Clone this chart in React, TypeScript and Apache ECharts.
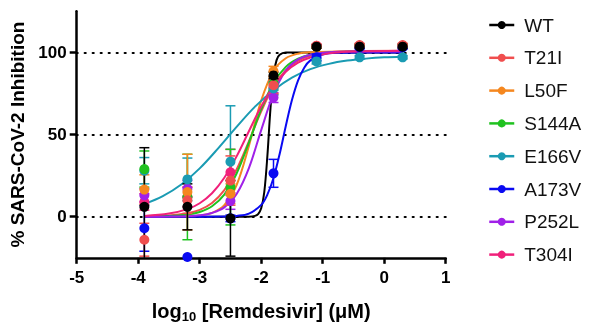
import React, { useEffect, useRef } from 'react';
import * as echarts from 'echarts';

// log10 concentration (µM) of each measured point
const logConc = [-3.9, -3.2, -2.5, -1.8, -1.1, -0.4, 0.3];

const variants = ['WT', 'T21I', 'L50F', 'S144A', 'E166V', 'A173V', 'P252L', 'T304I'];
const colors = ['#000000', '#F04E4E', '#F5871F', '#1FC21F', '#1A9BB3', '#0A0AF2', '#A020E8', '#F0207A'];

// mean % inhibition per variant
const wtMean = [6, 6, -1, 86, 103.5, 103.5, 103.5];
const t21iMean = [-14, 10, 22, 80, 104, 104.5, 104.5];
const l50fMean = [16.5, 15, 14, 88.5, 103.5, 104, 104];
const s144aMean = [29, 12, 18, 81, 103.5, 104, 104];
const e166vMean = [28, 22.7, 33.5, 78, 94.5, 97, 97];
const a173vMean = [-7, -24.5, -1, 26.4, 97, 103, 103];
const p252lMean = [13, 17, 9.5, 72.5, 103.5, 104, 104];
const t304iMean = [9, 12, 27, 78.5, 104, 104, 104];

// standard deviation per variant
const wtSd = [36, 14, 23, 2, 1, 1, 1];
const t21iSd = [10, 8, 15, 5, 1, 1, 1];
const l50fSd = [9, 23, 6, 3, 1, 1, 1];
const s144aSd = [11, 26, 23, 4, 1, 1, 1];
const e166vSd = [8, 13, 34, 4, 1.5, 1, 1];
const a173vSd = [14, 0, 2, 8.5, 2, 1, 1];
const p252lSd = [4, 5, 5, 3, 1, 1, 1];
const t304iSd = [5, 6, 14, 4, 1, 1, 1];

// fitted dose-response curves as [log10 conc, % inhibition]
const wtCurve = [[-3.9, 0], [-3.0, 0], [-2.4, 0], [-2.2, 0.05], [-2.1, 0.5], [-2.05, 1.6], [-2.0, 5.1], [-1.95, 15], [-1.9, 36.7], [-1.85, 65.5], [-1.8, 86.1], [-1.75, 95.3], [-1.7, 98.5], [-1.6, 99.9], [-1.4, 100], [-0.5, 100], [0.3, 100]];
const t21iCurve = [[-3.9, 0.2], [-3.5, 0.7], [-3.2, 2.1], [-3.0, 4.2], [-2.8, 8.4], [-2.6, 16.2], [-2.4, 28.8], [-2.2, 45.9], [-2.0, 64.1], [-1.8, 79.2], [-1.6, 89.2], [-1.4, 95], [-1.2, 98], [-0.9, 100], [-0.5, 100.8], [0.3, 101]];
const l50fCurve = [[-3.9, 0], [-3.5, 0.04], [-3.2, 0.24], [-3.0, 0.75], [-2.8, 2.3], [-2.6, 7.0], [-2.4, 19.3], [-2.2, 43.1], [-2.0, 70.7], [-1.8, 88.7], [-1.6, 96.4], [-1.4, 99.2], [-1.2, 100.1], [-0.9, 100.4], [0.3, 100.5]];
const s144aCurve = [[-3.9, 0.07], [-3.5, 0.37], [-3.2, 1.3], [-3.0, 2.9], [-2.8, 6.4], [-2.6, 13.5], [-2.4, 26.3], [-2.2, 45.1], [-2.0, 65.4], [-1.8, 81.4], [-1.6, 91.2], [-1.4, 96.2], [-1.2, 98.6], [-0.9, 100], [-0.5, 100.4], [0.3, 100.5]];
const e166vCurve = [[-3.9, 7.7], [-3.6, 12.5], [-3.3, 19.6], [-3.0, 29.4], [-2.7, 41.6], [-2.4, 54.7], [-2.1, 67], [-1.8, 77], [-1.5, 84.7], [-1.2, 89.8], [-0.9, 93], [-0.6, 95], [-0.3, 96.2], [0, 97], [0.3, 97.4]];
const a173vCurve = [[-3.9, 0], [-3.0, 0], [-2.6, 0.1], [-2.4, 0.5], [-2.2, 1.9], [-2.0, 7.2], [-1.9, 13.4], [-1.8, 23.6], [-1.7, 38.2], [-1.6, 55.2], [-1.5, 71], [-1.4, 83], [-1.3, 90.7], [-1.2, 95.1], [-1.0, 98.7], [-0.7, 99.8], [-0.4, 100], [0.3, 100]];
const p252lCurve = [[-3.9, 0], [-3.5, 0.08], [-3.2, 0.33], [-3.0, 0.87], [-2.8, 2.3], [-2.6, 5.7], [-2.4, 13.8], [-2.2, 29.6], [-2.0, 52.7], [-1.8, 74.7], [-1.6, 88.9], [-1.4, 95.7], [-1.2, 98.6], [-0.9, 100.1], [-0.5, 100.5], [0.3, 100.5]];
const t304iCurve = [[-3.9, 0.5], [-3.5, 1.9], [-3.2, 4.6], [-3.0, 8.2], [-2.8, 14.3], [-2.6, 23.7], [-2.4, 36.7], [-2.2, 52], [-2.0, 67.1], [-1.8, 79.5], [-1.6, 88.2], [-1.4, 93.7], [-1.2, 96.9], [-0.9, 99.4], [-0.5, 100.5], [0.3, 101]];

const yTicks = [0, 50, 100];
const refLines = [0, 50, 100];

const means = [wtMean, t21iMean, l50fMean, s144aMean, e166vMean, a173vMean, p252lMean, t304iMean];
const sds = [wtSd, t21iSd, l50fSd, s144aSd, e166vSd, a173vSd, p252lSd, t304iSd];
const curves = [wtCurve, t21iCurve, l50fCurve, s144aCurve, e166vCurve, a173vCurve, p252lCurve, t304iCurve];

const FONT = '"Liberation Sans", Arial, Helvetica, sans-serif';
const Y_MIN = -25;
const Y_MAX = 125;

export default function App() {
  const ref = useRef<HTMLDivElement>(null);
  useEffect(() => {
    const chart = echarts.init(ref.current!, null, { renderer: 'svg' });
    const series: any[] = [];
    // curves
    variants.forEach((v, i) => {
      series.push({
        type: 'line',
        name: v,
        data: curves[i],
        symbol: 'circle',
        showSymbol: false,
        smooth: 0.35,
        lineStyle: { color: colors[i], width: 2 },
        itemStyle: { color: colors[i] },
        z: 3,
        silent: true,
        markLine: i === 0 ? {
          silent: true,
          symbol: 'none',
          label: { show: false },
          lineStyle: { color: '#000', width: 2.2, type: [1, 7], cap: 'round' },
          data: refLines.map((y) => ({ yAxis: y })),
          z: 1,
        } : undefined,
      });
    });
    // error bars (reverse order so WT on top)
    for (let i = variants.length - 1; i >= 0; i--) {
      const data = logConc.map((x, k) => [x, means[i][k], means[i][k] - sds[i][k], means[i][k] + sds[i][k]]);
      series.push({
        type: 'custom',
        name: variants[i] + ' SD',
        data,
        z: 4,
        silent: true,
        renderItem: (params: any, api: any) => {
          const x = api.value(0);
          const lo = api.value(2);
          const hi = api.value(3);
          if (hi - lo <= 0) return { type: 'group', children: [] };
          const loC = Math.max(lo, Y_MIN);
          const hiC = Math.min(hi, Y_MAX);
          const pTop = api.coord([x, hiC]);
          const pBot = api.coord([x, loC]);
          const cw = 5;
          const st = { stroke: colors[i], lineWidth: 1.5 };
          const ch: any[] = [
            { type: 'line', shape: { x1: pTop[0], y1: pTop[1], x2: pBot[0], y2: pBot[1] }, style: st },
          ];
          if (hi <= Y_MAX) ch.push({ type: 'line', shape: { x1: pTop[0] - cw, y1: pTop[1], x2: pTop[0] + cw, y2: pTop[1] }, style: st });
          if (lo >= Y_MIN) ch.push({ type: 'line', shape: { x1: pBot[0] - cw, y1: pBot[1], x2: pBot[0] + cw, y2: pBot[1] }, style: st });
          return { type: 'group', children: ch };
        },
      });
    }
    // points
    for (let i = variants.length - 1; i >= 0; i--) {
      series.push({
        type: 'scatter',
        name: variants[i] + ' mean',
        data: logConc.map((x, k) => [x, means[i][k]]),
        symbol: 'circle',
        symbolSize: 10,
        itemStyle: { color: colors[i], opacity: 1 },
        z: 5,
        silent: true,
      });
    }

    const option: any = {
      animation: false,
      grid: { left: 76.7, right: 143.3, top: 11.3, bottom: 73.2, containLabel: false },
      legend: {
        data: variants,
        orient: 'vertical',
        left: 483,
        top: 10.5,
        itemWidth: 25,
        itemHeight: 10,
        itemGap: 13.8,
        selectedMode: false,
        lineStyle: { width: 2.5 },
        textStyle: { fontSize: 19, fontFamily: FONT, color: '#111', lineHeight: 19, padding: [0, 0, 0, 5] },
      },
      xAxis: {
        type: 'value',
        min: -5,
        max: 1,
        interval: 1,
        axisLine: { onZero: false, lineStyle: { color: '#000', width: 2.5 } },
        axisTick: { length: 6, lineStyle: { color: '#000', width: 2.5 } },
        axisLabel: { margin: 11, fontSize: 17, fontWeight: 'bold', color: '#000', fontFamily: FONT },
        splitLine: { show: false },
        name: '{b|log}{s|10}{b| [Remdesivir] (μM)}',
        nameLocation: 'middle',
        nameGap: 41,
        nameTextStyle: {
          rich: {
            b: { fontSize: 20, fontWeight: 'bold', fontFamily: FONT, color: '#000', lineHeight: 24 },
            s: { fontSize: 13, fontWeight: 'bold', fontFamily: FONT, color: '#000', lineHeight: 24, verticalAlign: 'bottom', padding: [11, 0, 0, 0] },
          },
        },
      },
      yAxis: {
        type: 'value',
        min: Y_MIN,
        max: Y_MAX,
        axisLine: { onZero: false, lineStyle: { color: '#000', width: 2.5 } },
        axisTick: { customValues: yTicks, length: 7, lineStyle: { color: '#000', width: 2.5 } },
        axisLabel: { customValues: yTicks, margin: 10, fontSize: 17, fontWeight: 'bold', color: '#000', fontFamily: FONT },
        splitLine: { show: false },
        name: '% SARS-CoV-2 Inhibition',
        nameLocation: 'middle',
        nameGap: 49,
        nameTextStyle: { fontSize: 19, fontWeight: 'bold', fontFamily: FONT, color: '#000' },
      },
      series,
    };
    chart.setOption(option);
    return () => chart.dispose();
  }, []);
  return <div ref={ref} style={{ position: 'fixed', left: 0, top: 0, width: 589, height: 331 }} />;
}
